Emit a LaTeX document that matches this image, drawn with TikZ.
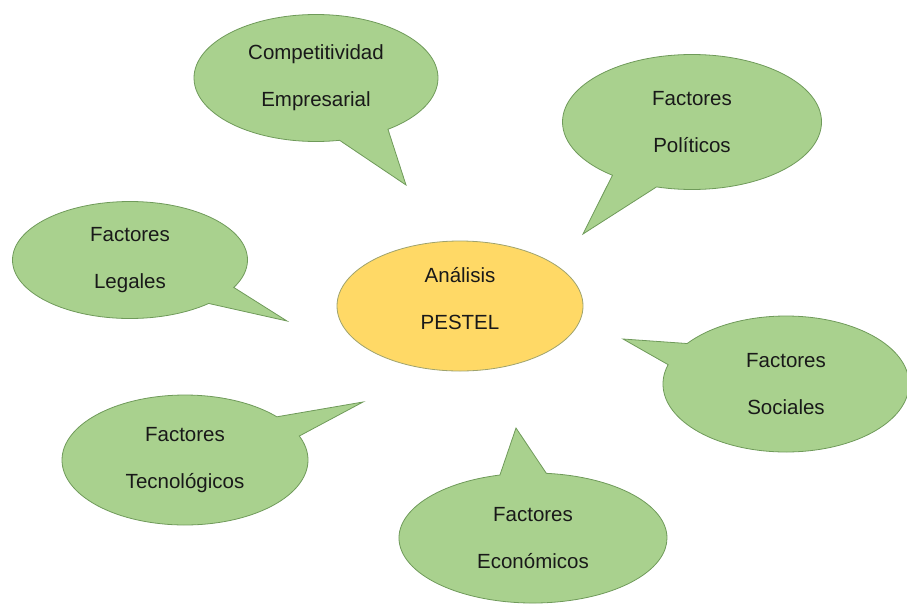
\documentclass[tikz,border=0pt]{standalone}
\usepackage{fontspec}
\setmainfont{Liberation Sans}
\usepackage{tikz}
\usetikzlibrary{positioning}
\usetikzlibrary{shapes.geometric, shapes.callouts}
\definecolor{bubblegreen}{HTML}{A9D18E}
\definecolor{bubbleedge}{HTML}{6F9A5A}
\definecolor{coreyellow}{HTML}{FFD966}
\definecolor{coreedge}{HTML}{9FA36E}
\tikzstyle{label} = [align=center,text=black!90,font=\fontsize{20.5}{47}\selectfont]
\tikzstyle{bubble} = [label,ellipse callout,draw=bubbleedge,fill=bubblegreen,line width=0.8pt,inner sep=0pt]
\tikzstyle{core} = [label,ellipse,draw=coreedge,fill=coreyellow,line width=0.8pt,inner sep=0pt]

\begin{document}
\begin{tikzpicture}[x=1pt,y=-1pt]
						\useasboundingbox (0,0) rectangle (907,603);
						
						%Tips
						\coordinate (tipcomp) at (406,185);
						\coordinate (tippol) at (583,234);
						\coordinate (tipleg) at (287,321);
						\coordinate (tipsoc) at (623,339);
						\coordinate (tiptec) at (363,402);
						\coordinate (tipeco) at (516,428);
						
						%Nodes
						\node [core,minimum width=246pt,minimum height=130pt,text depth=16pt] (pestel) at (460,306) {Análisis\\PESTEL};
						
						\node [bubble,minimum width=244pt,minimum height=127pt,callout absolute pointer={(tipcomp)},callout pointer arc=25] (comp) at (316,78) {Competitividad\\Empresarial};
						\node [bubble,minimum width=259pt,minimum height=135pt,callout absolute pointer={(tippol)},callout pointer arc=22] (pol) at (692,122) {Factores\\Políticos};
						\node [bubble,minimum width=235pt,minimum height=117pt,callout absolute pointer={(tipleg)},callout pointer arc=20] (leg) at (130,260) {Factores\\Legales};
						\node [bubble,minimum width=246pt,minimum height=136pt,callout absolute pointer={(tipsoc)},callout pointer arc=20] (soc) at (786,384) {Factores\\Sociales};
						\node [bubble,minimum width=246pt,minimum height=130pt,callout absolute pointer={(tiptec)},callout pointer arc=20] (tec) at (185,460) {Factores\\Tecnológicos};
						\node [bubble,minimum width=268pt,minimum height=130pt,callout absolute pointer={(tipeco)},callout pointer arc=20] (eco) at (533,538) {Factores\\Económicos};
						
\end{tikzpicture}
\end{document}
